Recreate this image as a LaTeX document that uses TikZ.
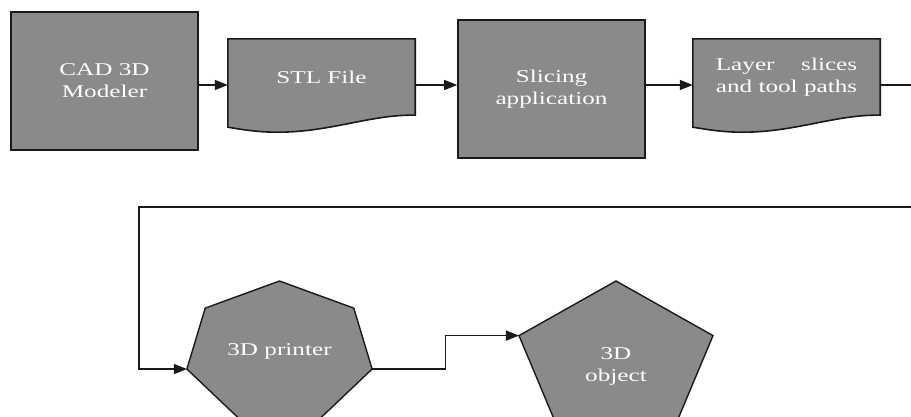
\documentclass[tikz,border=0pt]{standalone}
\usepackage{fontspec}
\setmainfont{Liberation Serif}[FakeStretch=1.4]
\usepackage{xcolor}
\definecolor{shade}{HTML}{8A8A8A}
\definecolor{ink}{HTML}{1A1A1A}
\usepackage{tikz}
\usetikzlibrary{positioning,arrows.meta,backgrounds,calc}
\newlength\pathw

\begin{document}
\begin{tikzpicture}[
  x=1pt,y=-1pt,
  font=\fontsize{18}{22}\selectfont,
  >={Triangle[length=13pt,width=10pt]},
  every node/.style={align=center,text=white},
  block/.style={draw=ink,line width=1.6pt,fill=shade,inner sep=0pt,
              minimum width=187pt,minimum height=138pt},
  doc/.style={inner sep=0pt,minimum width=187pt,minimum height=76pt},
  docshape/.style={draw=ink,line width=1.6pt,fill=shade},
  polyshape/.style={draw=ink,line width=1.4pt,fill=shade},
  flow/.style={->,draw=ink,line width=1.6pt},
]
\useasboundingbox (0,0) rectangle (911,416);
\clip (0,0) rectangle (911,416);

% --- top row: modeler, stl, slicer, slices
\coordinate (row) at (0,85);
\node[block] (cad) at (104.5,81) {CAD 3D\\Modeler};
\node[doc,right=29pt of cad,yshift=4pt] (stl) {STL File};
\node[block,right=42pt of stl,yshift=-12pt] (slicer) {Slicing\\application};
\node[doc,right=47pt of slicer,yshift=12pt] (slices)
   {\settowidth\pathw{and tool paths}\makebox[\pathw][s]{Layer slices}\\and tool paths};

% --- bottom row: printer, object (text first, outlines behind)
\node (printer) at (279.5,351) {3D printer};
\node (object) at (616,366) {3D\\object};

\begin{scope}[on background layer]
  % wavy-bottom documents
  \foreach \n in {stl,slices}
    \draw[docshape] (\n.south east)
      .. controls +(-44,-1) and +(53,0) .. ([shift={(50,17)}]\n.south west)
      .. controls +(-22,0) and +(13,2) .. ([shift={(0,12)}]\n.south west)
      -- (\n.north west) -- (\n.north east) -- cycle;
  % flattened polygons, corners named <node>-<i>
  \foreach \n/\k/\rx/\ry/\dy in {printer/7/95/72/2,object/5/102/79/-6}
    \draw[polyshape] ([shift={(0,\dy-\ry)}]\n.center)
      \foreach \i in {1,...,\k}{
        -- ([shift={({\rx*cos(90+360*\i/\k)},{\dy-\ry*sin(90+360*\i/\k)})}]\n.center)
           coordinate (\n-\i)
      } -- cycle;
\end{scope}

% --- arrows
\draw[flow] (cad.east |- row) -- (stl.west |- row);
\draw[flow] (stl.east |- row) -- (slicer.west |- row);
\draw[flow] (slicer.east |- row) -- (slices.west |- row);

% loop back round the right margin
\coordinate (offright) at (925,207);
\coordinate (back) at (139,207);
\draw[flow] (slices.east |- row) -| (offright) -- (back) |- (printer-2);
\draw[flow] (printer-5) -| ($(printer-5)!.5!(object-1)$) |- (object-1);

\end{tikzpicture}
\end{document}
